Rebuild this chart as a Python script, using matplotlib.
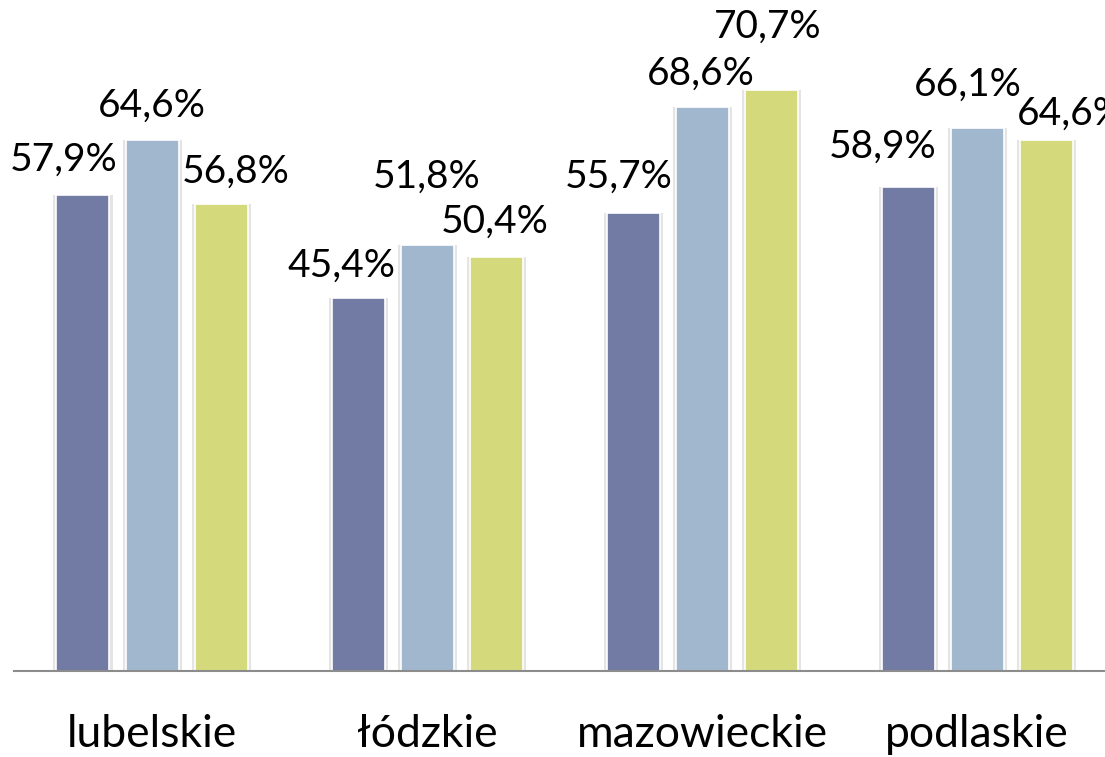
import matplotlib
matplotlib.use("Agg")
import matplotlib.pyplot as plt
import numpy as np

# *
# Data
# *
regions = ["lubelskie", "łódzkie", "mazowieckie", "podlaskie"]
series_a = [57.9, 45.4, 55.7, 58.9]
series_b = [64.6, 51.8, 68.6, 66.1]
series_c = [56.8, 50.4, 70.7, 64.6]

colors = ["#717ba3", "#a1b7cd", "#d4da7b"]

# label nudges (pixels) per series, per region - mimics excel placement
label_dx = [[-19, -17, -14, -25], [0, 0, -1, -9], [15, -1, -3, 25]]
label_dy = [[24, 21, 25, 29], [23, 57, 22, 32], [21, 24, 52, 15]]

# *
# Figure
# *
plt.rcParams['font.family'] = ['Lato', 'DejaVu Sans']
fig = plt.figure(figsize=(11.05, 7.57), dpi=100)
ax = fig.add_axes([0, 0, 1, 1])

px_per_pct = 8.22
ax.set_ylim(-(757 - 671) / px_per_pct, 671 / px_per_pct)
ax.set_xlim(-152 / 275, (1105 - 152) / 275)

x = np.arange(len(regions))
offset = 69 / 275
width = 53 / 275

all_series = [series_a, series_b, series_c]
for i, vals in enumerate(all_series):
    xs = x + (i - 1) * offset
    # soft shadow behind each bar
    ax.bar(xs, vals, width=width + 6 / 275, color="#e4e4e4", zorder=1)
    ax.bar(xs, vals, width=width, color=colors[i], edgecolor="white", linewidth=1.2, zorder=2)
    for j, v in enumerate(vals):
        ax.annotate("{:.1f}%".format(v).replace(".", ","), (xs[j], v),
                    xytext=(label_dx[i][j], label_dy[i][j]), textcoords="offset pixels",
                    ha="center", va="baseline", fontsize=28, color="black", zorder=4)

# baseline
ax.plot([-138 / 275, 3.5], [0, 0], color="#8c8c8c", linewidth=1.5, zorder=3, clip_on=False)

for j, name in enumerate(regions):
    ax.text(x[j], -(747 - 671) / px_per_pct, name, ha="center", va="baseline", fontsize=32, color="black")

ax.axis("off")
fig.savefig("out.png", dpi=100)
